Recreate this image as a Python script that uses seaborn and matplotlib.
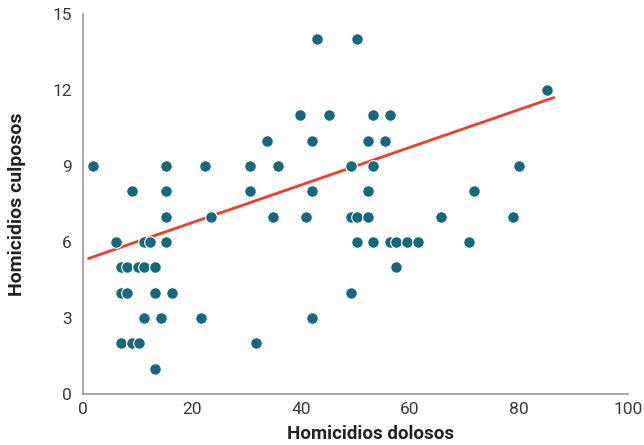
import pandas as pd
import matplotlib
matplotlib.use('Agg')
from matplotlib import pyplot as plt
import seaborn as sns

# Datos (x = homicidios dolosos, y = homicidios culposos)
dolosos = [
    43.0, 50.2,
    85.1,
    39.9, 45.1, 53.3, 56.3,
    33.8, 42.0, 52.3, 55.4,
    1.8, 15.2, 22.4, 30.6, 35.8, 49.2, 53.3, 80.0,
    9.0, 15.2, 30.6, 42.0, 52.3, 71.8,
    15.2, 23.5, 34.8, 40.9, 49.2, 50.2, 52.3, 65.7, 79.0,
    6.0, 11.2, 12.2, 15.2, 50.2, 53.3, 56.3, 57.4, 59.4, 61.5, 70.8,
    7.0, 8.1, 10.1, 11.2, 13.2, 57.4,
    6.9, 8.1, 13.2, 16.3, 49.2,
    11.2, 14.3, 21.6, 42.0,
    7.0, 9.0, 10.3, 31.7,
    13.2,
]
culposos = (
    [14] * 2 + [12] * 1 + [11] * 4 + [10] * 4 + [9] * 8 + [8] * 6
    + [7] * 9 + [6] * 11 + [5] * 6 + [4] * 5 + [3] * 4 + [2] * 4 + [1] * 1
)

# línea de tendencia tal como aparece en el gráfico (extremos)
tendencia_x = [1.0, 86.4]
tendencia_y = [5.35, 11.7]

x_ticks = [0, 20, 40, 60, 80, 100]
y_ticks = [0, 3, 6, 9, 12, 15]

if __name__ == '__main__':
    df = pd.DataFrame({'dolosos': dolosos, 'culposos': culposos})
    df_tend = pd.DataFrame({'x': tendencia_x, 'y': tendencia_y})

    sns.set_style('white')
    plt.rcParams['font.family'] = ['Roboto', 'DejaVu Sans']

    fig = plt.figure(figsize=(6.44, 4.45), dpi=100)
    ax = fig.add_axes([0.129, 0.1146, 0.846, 0.854])

    sns.scatterplot(data=df, x='dolosos', y='culposos', ax=ax, color='#15697a',
                    s=70, edgecolor='white', linewidth=0.8, zorder=3)
    sns.lineplot(data=df_tend, x='x', y='y', ax=ax, color='#ef3e2c',
                 linewidth=2, zorder=2)

    ax.set_xlim(0, 100)
    ax.set_ylim(0, 15)
    ax.set_xticks(x_ticks)
    ax.set_yticks(y_ticks)

    sns.despine(ax=ax)
    for side in ['left', 'bottom']:
        ax.spines[side].set_color('#9a9a9a')
        ax.spines[side].set_linewidth(1.2)

    ax.tick_params(axis='both', which='major', direction='in', colors='#9a9a9a',
                   labelcolor='#3a3a3a', labelsize=12.5, width=1.2)
    ax.tick_params(axis='y', length=12, pad=8)
    ax.tick_params(axis='x', length=9, pad=6)

    ax.set_xlabel('Homicidios dolosos', fontsize=13.5, fontweight='bold', color='#222222')
    ax.set_ylabel('Homicidios culposos', fontsize=14, fontweight='bold', color='#222222')
    ax.xaxis.set_label_coords(0.527, -0.082)
    ax.yaxis.set_label_coords(-0.105, 0.5)

    fig.savefig('out.png', dpi=100)
